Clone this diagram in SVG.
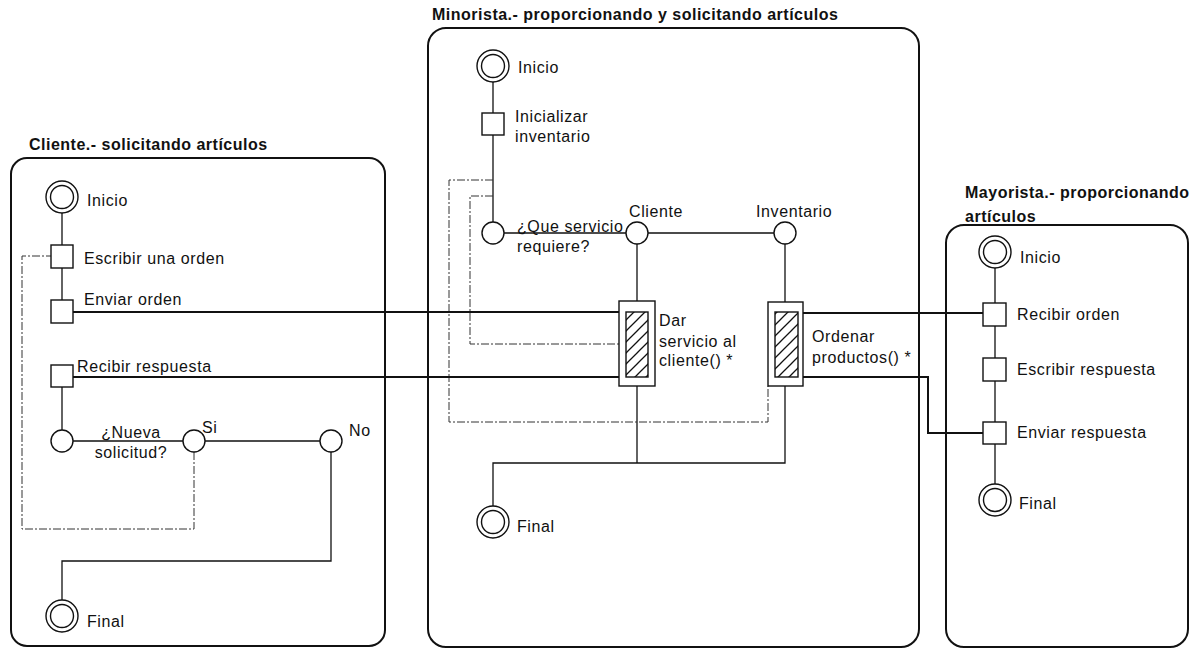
<svg xmlns="http://www.w3.org/2000/svg" width="1190" height="649" viewBox="0 0 1190 649">
  <defs>
    <pattern id="hatch" patternUnits="userSpaceOnUse" width="11" height="11">
      <path d="M0,11 L11,0 M-3,3 L3,-3 M8,14 L14,8" stroke="#111" stroke-width="1.3"/>
    </pattern>
  </defs>
  <style>
    .lane { fill: none; stroke: #111; stroke-width: 2; }
    .title { font-family: "Liberation Sans", Arial, sans-serif; font-weight: bold; font-size: 16px; letter-spacing: 0.5px; fill: #111; }
    .lbl { font-family: "Liberation Sans", Arial, sans-serif; font-size: 16px; letter-spacing: 0.6px; fill: #111; }
    .flow { fill: none; stroke: #111; stroke-width: 1.3; }
    .msg { fill: none; stroke: #111; stroke-width: 2; }
    .loop { fill: none; stroke: #333; stroke-width: 1; stroke-dasharray: 8 2 2 2; }
    .state { fill: #fff; stroke: #111; stroke-width: 1.4; }
    .act { fill: #fff; stroke: #111; stroke-width: 1.4; }
    .ring { fill: #fff; stroke: #111; stroke-width: 1.4; }
  </style>

  <rect width="1190" height="649" fill="#fff"/>

  <!-- swimlanes -->
  <g id="lane-cliente">
    <text class="title" x="29" y="150">Cliente.- solicitando artículos</text>
    <rect class="lane" x="11" y="158" width="374" height="488" rx="16"/>
  </g>
  <g id="lane-minorista">
    <text class="title" x="432" y="20">Minorista.- proporcionando y solicitando artículos</text>
    <rect class="lane" x="428" y="28" width="491" height="619" rx="18"/>
  </g>
  <g id="lane-mayorista">
    <text class="title" x="965" y="198">Mayorista.- proporcionando</text>
    <text class="title" x="965" y="222">artículos</text>
    <rect class="lane" x="946" y="225" width="242" height="422" rx="18"/>
  </g>

  <!-- connectors -->
  <g id="connectors">
    <!-- Cliente control flow -->
    <path class="flow" d="M62,213 V245 M62,268 V300 M62,387 V430 M73,441 H183 M205,441 H320 M331,452 V561 H62 V600"/>
    <path class="loop" d="M194,452 V529 H22 V256 H51"/>
    <!-- Minorista control flow -->
    <path class="flow" d="M493,82 V113 M493,135 V222 M503,233 H626 M648,233 H774 M637,244 V301 M785,244 V302 M637,386 V463 M785,386 V463 H493 V506"/>
    <path class="loop" d="M493,180 H449 V422 H768 V386"/>
    <path class="loop" d="M493,196 H470 V344 H619"/>
    <!-- Mayorista control flow -->
    <path class="flow" d="M995,268 V303 M995,326 V358 M995,381 V422 M995,444 V484"/>
    <!-- messages between lanes -->
    <path class="msg" d="M73,312 H619"/>
    <path class="msg" d="M73,377 H619"/>
    <path class="msg" d="M803,313 H983"/>
    <path class="msg" d="M803,377 H928 V433 H983"/>
  </g>

  <!-- Cliente nodes -->
  <g id="cliente-inicio">
    <circle class="ring" cx="62" cy="197" r="16"/>
    <circle class="ring" cx="62" cy="197" r="11.5"/>
    <text class="lbl" x="87" y="206">Inicio</text>
  </g>
  <g id="cliente-escribir">
    <rect class="act" x="51" y="245" width="22" height="23"/>
    <text class="lbl" x="84" y="264">Escribir una orden</text>
  </g>
  <g id="cliente-enviar">
    <rect class="act" x="51" y="300" width="22" height="23"/>
    <text class="lbl" x="84" y="305">Enviar orden</text>
  </g>
  <g id="cliente-recibir">
    <rect class="act" x="51" y="365" width="22" height="22"/>
    <text class="lbl" x="77" y="372">Recibir respuesta</text>
  </g>
  <g id="cliente-decision">
    <circle class="state" cx="62" cy="441" r="11"/>
    <text class="lbl" x="131" y="438" text-anchor="middle">¿Nueva</text>
    <text class="lbl" x="131" y="458" text-anchor="middle">solicitud?</text>
  </g>
  <g id="cliente-si">
    <circle class="state" cx="194" cy="441" r="11"/>
    <text class="lbl" x="202" y="433">Si</text>
  </g>
  <g id="cliente-no">
    <circle class="state" cx="331" cy="441" r="11"/>
    <text class="lbl" x="349" y="436">No</text>
  </g>
  <g id="cliente-final">
    <circle class="ring" cx="62" cy="616" r="16"/>
    <circle class="ring" cx="62" cy="616" r="11.5"/>
    <text class="lbl" x="87" y="627">Final</text>
  </g>

  <!-- Minorista nodes -->
  <g id="minorista-inicio">
    <circle class="ring" cx="493" cy="66" r="16"/>
    <circle class="ring" cx="493" cy="66" r="11.5"/>
    <text class="lbl" x="518" y="73">Inicio</text>
  </g>
  <g id="minorista-inicializar">
    <rect class="act" x="482" y="113" width="22" height="22"/>
    <text class="lbl" x="515" y="122">Inicializar</text>
    <text class="lbl" x="515" y="142">inventario</text>
  </g>
  <g id="minorista-decision">
    <circle class="state" cx="493" cy="233" r="11"/>
    <text class="lbl" x="517" y="232">¿Que servicio</text>
    <text class="lbl" x="517" y="252">requiere?</text>
  </g>
  <g id="minorista-cliente">
    <circle class="state" cx="637" cy="233" r="11"/>
    <text class="lbl" x="629" y="217">Cliente</text>
  </g>
  <g id="minorista-inventario">
    <circle class="state" cx="785" cy="233" r="11"/>
    <text class="lbl" x="756" y="217">Inventario</text>
  </g>
  <g id="minorista-dar-servicio">
    <rect class="act" x="619" y="301" width="36" height="85"/>
    <rect x="626" y="312" width="22" height="65" fill="url(#hatch)" stroke="#111" stroke-width="1.4"/>
    <text class="lbl" x="659" y="326">Dar</text>
    <text class="lbl" x="659" y="347">servicio al</text>
    <text class="lbl" x="659" y="366">cliente() *</text>
  </g>
  <g id="minorista-ordenar">
    <rect class="act" x="768" y="302" width="35" height="84"/>
    <rect x="775" y="312" width="23" height="65" fill="url(#hatch)" stroke="#111" stroke-width="1.4"/>
    <text class="lbl" x="812" y="342">Ordenar</text>
    <text class="lbl" x="812" y="363">productos() *</text>
  </g>
  <g id="minorista-final">
    <circle class="ring" cx="493" cy="522" r="16"/>
    <circle class="ring" cx="493" cy="522" r="11.5"/>
    <text class="lbl" x="517" y="532">Final</text>
  </g>

  <!-- Mayorista nodes -->
  <g id="mayorista-inicio">
    <circle class="ring" cx="995" cy="252" r="16"/>
    <circle class="ring" cx="995" cy="252" r="11.5"/>
    <text class="lbl" x="1020" y="263">Inicio</text>
  </g>
  <g id="mayorista-recibir">
    <rect class="act" x="983" y="303" width="23" height="23"/>
    <text class="lbl" x="1017" y="320">Recibir orden</text>
  </g>
  <g id="mayorista-escribir">
    <rect class="act" x="983" y="358" width="23" height="23"/>
    <text class="lbl" x="1017" y="375">Escribir respuesta</text>
  </g>
  <g id="mayorista-enviar">
    <rect class="act" x="983" y="422" width="23" height="22"/>
    <text class="lbl" x="1017" y="438">Enviar respuesta</text>
  </g>
  <g id="mayorista-final">
    <circle class="ring" cx="995" cy="500" r="16"/>
    <circle class="ring" cx="995" cy="500" r="11.5"/>
    <text class="lbl" x="1019" y="509">Final</text>
  </g>
</svg>
